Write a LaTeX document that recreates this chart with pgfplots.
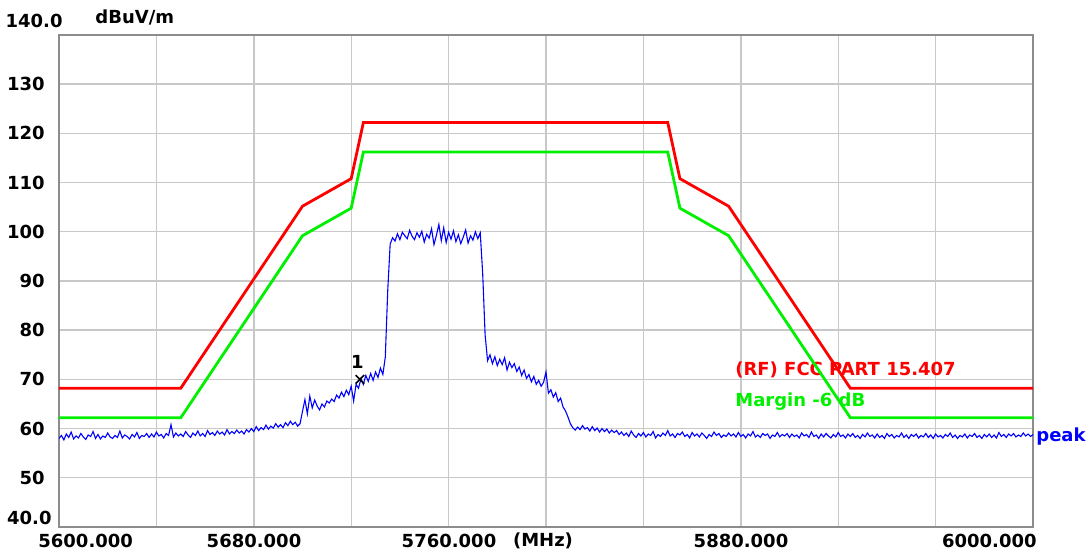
\documentclass[border=0pt]{standalone}
\usepackage{pgfplots}
\pgfplotsset{compat=1.18}
\usepackage{fontspec}
\setmainfont{DejaVu Sans}
\definecolor{limred}{RGB}{255,0,0}
\definecolor{limgreen}{RGB}{0,240,0}
\definecolor{traceblue}{RGB}{0,0,255}
\definecolor{gridgray}{RGB}{200,200,200}
\definecolor{framegray}{RGB}{140,140,140}
\newcommand\lbl{\bfseries\fontsize{9}{10}\selectfont}

\begin{document}
\begin{tikzpicture}
\useasboundingbox (0,0) rectangle (544.5pt,277.5pt);
\begin{axis}[
    at={(29.5pt,14pt)}, anchor=south west,
    width=487pt, height=246pt, scale only axis,
    xmin=5600, xmax=6000, ymin=40, ymax=140,
    xtick={5600,5640,...,6000}, xticklabels={,,,,,,,,,,},
    ytick={40,50,...,140},
    yticklabels={,50,60,70,80,90,100,110,120,130,},
    major tick length=0pt,
    grid=major,
    grid style={color=gridgray, line width=0.7pt},
    axis line style={color=framegray, line width=1.4pt},
    yticklabel style={font=\lbl, inner sep=0pt, xshift=-7pt, anchor=east},
    clip mode=individual,
]
% limit labels (drawn under the lines, as in the analyser plot)
\node[anchor=west, text=limred, font=\lbl, inner sep=0pt] at (axis cs:5877.6,71.9) {(RF) FCC PART 15.407};
\node[anchor=west, text=limgreen, font=\lbl, inner sep=0pt] at (axis cs:5877.6,65.4) {Margin -6 dB};

% peak trace
\addplot[traceblue, line width=0.55pt] coordinates {
(5600,58.0) (5601,58.6) (5602,57.7) (5603,58.9) (5604,58.2) (5605,59.3) (5606,57.9) (5607,58.5) (5608,58.1) (5609,59.0)
(5610,58.3) (5611,57.8) (5612,58.7) (5613,58.4) (5614,59.4) (5615,58.0) (5616,58.8) (5617,57.9) (5618,58.5) (5619,58.2)
(5620,59.1) (5621,58.3) (5622,58.0) (5623,58.6) (5624,58.2) (5625,59.5) (5626,58.1) (5627,58.7) (5628,58.4) (5629,57.9)
(5630,58.8) (5631,58.3) (5632,59.2) (5633,58.0) (5634,58.6) (5635,58.4) (5636,59.0) (5637,58.2) (5638,58.9) (5639,58.3)
(5640,59.3) (5641,58.5) (5642,58.8) (5643,58.1) (5644,59.0) (5645,58.6) (5646,60.8) (5647,58.3) (5648,59.1) (5649,58.5)
(5650,58.9) (5651,58.4) (5652,59.4) (5653,58.7) (5654,58.2) (5655,59.1) (5656,58.6) (5657,59.5) (5658,58.5) (5659,59.0)
(5660,58.4) (5661,59.6) (5662,58.8) (5663,59.2) (5664,58.6) (5665,59.5) (5666,58.9) (5667,59.3) (5668,58.7) (5669,59.8)
(5670,58.9) (5671,59.4) (5672,59.0) (5673,59.7) (5674,59.1) (5675,59.5) (5676,58.9) (5677,59.8) (5678,59.3) (5679,60.0)
(5680,59.4) (5681,60.4) (5682,59.6) (5683,60.2) (5684,59.8) (5685,60.7) (5686,59.9) (5687,60.5) (5688,60.1) (5689,61.0)
(5690,60.3) (5691,60.8) (5692,60.2) (5693,61.2) (5694,60.6) (5695,61.5) (5696,60.8) (5697,61.3) (5698,60.5) (5699,61.0)
(5700,63.5) (5701,65.9) (5702,63.0) (5703,66.6) (5704,64.2) (5705,65.8) (5706,64.6) (5707,63.8) (5708,65.0) (5709,64.4)
(5710,65.6) (5711,65.2) (5712,66.0) (5713,65.5) (5714,66.8) (5715,66.2) (5716,67.4) (5717,66.5) (5718,67.8) (5719,66.9)
(5720,68.6) (5721,65.6) (5722,69.0) (5723,68.2) (5724,70.1) (5725,69.0) (5726,70.8) (5727,69.6) (5728,71.2) (5729,69.8)
(5730,71.5) (5731,70.4) (5732,72.3) (5733,71.0) (5734,74.5) (5735,88.0) (5736,97.5) (5737,98.8) (5738,98.1) (5739,99.6)
(5740,98.4) (5741,99.9) (5742,99.2) (5743,98.6) (5744,100.3) (5745,99.1) (5746,98.4) (5747,99.8) (5748,98.9) (5749,100.1)
(5750,97.9) (5751,99.5) (5752,98.7) (5753,100.6) (5754,97.4) (5755,99.3) (5756,101.5) (5757,98.2) (5758,100.8) (5759,97.8)
(5760,99.9) (5761,98.5) (5762,100.2) (5763,98.0) (5764,99.4) (5765,97.6) (5766,98.9) (5767,100.4) (5768,97.7) (5769,99.2)
(5770,98.3) (5771,100.0) (5772,98.6) (5773,99.8) (5774,91.5) (5775,79.0) (5776,73.8) (5777,75.0) (5778,73.2) (5779,74.6)
(5780,72.8) (5781,74.1) (5782,73.0) (5783,74.4) (5784,71.9) (5785,73.5) (5786,72.4) (5787,73.2) (5788,71.6) (5789,72.5)
(5790,70.8) (5791,71.9) (5792,70.2) (5793,71.0) (5794,69.5) (5795,70.6) (5796,69.0) (5797,69.8) (5798,68.6) (5799,69.4)
(5800,71.5) (5801,67.2) (5802,67.9) (5803,66.4) (5804,67.3) (5805,65.5) (5806,66.2) (5807,64.4) (5808,63.6) (5809,62.4)
(5810,61.0) (5811,60.2) (5812,59.7) (5813,60.3) (5814,59.8) (5815,60.6) (5816,59.9) (5817,60.2) (5818,59.5) (5819,60.4)
(5820,59.6) (5821,60.1) (5822,59.3) (5823,60.0) (5824,59.4) (5825,59.9) (5826,59.1) (5827,59.7) (5828,59.2) (5829,59.6)
(5830,58.8) (5831,59.3) (5832,58.6) (5833,59.1) (5834,58.4) (5835,59.5) (5836,58.7) (5837,58.2) (5838,59.0) (5839,58.5)
(5840,59.2) (5841,58.3) (5842,58.9) (5843,58.6) (5844,59.4) (5845,58.1) (5846,58.8) (5847,58.4) (5848,59.1) (5849,58.6)
(5850,59.6) (5851,58.5) (5852,58.9) (5853,58.2) (5854,59.0) (5855,58.7) (5856,59.3) (5857,58.4) (5858,58.8) (5859,58.1)
(5860,59.2) (5861,58.5) (5862,58.9) (5863,58.3) (5864,59.1) (5865,58.6) (5866,58.0) (5867,58.8) (5868,58.4) (5869,59.3)
(5870,58.6) (5871,59.0) (5872,58.2) (5873,58.7) (5874,58.4) (5875,59.1) (5876,58.5) (5877,58.9) (5878,58.3) (5879,59.2)
(5880,58.4) (5881,58.8) (5882,58.1) (5883,58.9) (5884,58.5) (5885,59.4) (5886,58.3) (5887,58.7) (5888,58.2) (5889,59.0)
(5890,58.6) (5891,58.9) (5892,58.0) (5893,58.7) (5894,58.4) (5895,59.2) (5896,58.3) (5897,58.8) (5898,58.5) (5899,59.0)
(5900,58.2) (5901,58.9) (5902,58.4) (5903,58.7) (5904,58.1) (5905,59.1) (5906,58.5) (5907,58.8) (5908,58.2) (5909,59.3)
(5910,58.4) (5911,58.7) (5912,58.0) (5913,58.9) (5914,58.3) (5915,59.0) (5916,58.5) (5917,58.1) (5918,58.8) (5919,58.3)
(5920,59.2) (5921,58.4) (5922,58.7) (5923,58.1) (5924,58.9) (5925,58.4) (5926,59.0) (5927,58.2) (5928,58.6) (5929,58.0)
(5930,58.8) (5931,58.3) (5932,59.1) (5933,58.4) (5934,58.7) (5935,58.1) (5936,58.9) (5937,58.2) (5938,58.6) (5939,58.0)
(5940,59.0) (5941,58.4) (5942,58.8) (5943,58.1) (5944,58.6) (5945,58.3) (5946,59.1) (5947,58.2) (5948,58.7) (5949,58.0)
(5950,58.8) (5951,58.4) (5952,58.9) (5953,58.1) (5954,58.6) (5955,58.3) (5956,59.0) (5957,58.2) (5958,58.7) (5959,58.0)
(5960,58.9) (5961,58.3) (5962,58.6) (5963,58.1) (5964,58.8) (5965,58.4) (5966,59.1) (5967,58.2) (5968,58.7) (5969,58.0)
(5970,58.6) (5971,58.3) (5972,58.9) (5973,58.1) (5974,58.7) (5975,58.4) (5976,59.0) (5977,58.2) (5978,58.6) (5979,58.0)
(5980,58.8) (5981,58.3) (5982,58.9) (5983,58.2) (5984,58.7) (5985,58.1) (5986,59.2) (5987,58.4) (5988,58.8) (5989,58.2)
(5990,58.9) (5991,58.5) (5992,59.0) (5993,58.3) (5994,58.7) (5995,58.4) (5996,59.1) (5997,58.5) (5998,58.9) (5999,58.4)
(6000,58.8)
};

% FCC 15.407 limit and -6 dB margin
\addplot[limred, line width=1.4pt] coordinates {
(5600,68.2) (5650,68.2) (5700,105.2) (5720,110.8) (5725,122.2)
(5850,122.2) (5855,110.8) (5875,105.2) (5925,68.2) (6000,68.2)
};
\addplot[limgreen, line width=1.4pt] coordinates {
(5600,62.2) (5650,62.2) (5700,99.2) (5720,104.8) (5725,116.2)
(5850,116.2) (5855,104.8) (5875,99.2) (5925,62.2) (6000,62.2)
};

% marker 1
\addplot[only marks, mark=x, mark size=3pt, black, line width=0.8pt] coordinates {(5723.6,70.0)};
\node[font=\lbl, inner sep=0pt] at (axis cs:5722.5,73.6) {1};

\node[anchor=west, text=traceblue, font=\lbl, inner sep=0pt] at (axis cs:6000,58.3) {\hspace{1.5pt}peak};
\end{axis}

% axis annotations in the analyser's layout
\node[anchor=east, font=\lbl, inner sep=0pt] at (31.5pt,267.25pt) {140.0};
\node[anchor=west, font=\lbl, inner sep=0pt] at (47.5pt,268.75pt) {dBuV/m};
\node[anchor=east, font=\lbl, inner sep=0pt] at (26pt,18.75pt) {40.0};
\node[anchor=west, font=\lbl, inner sep=0pt] at (19pt,7pt) {5600.000};
\node[font=\lbl, inner sep=0pt] at (127pt,7pt) {5680.000};
\node[font=\lbl, inner sep=0pt] (c) at (224.5pt,7pt) {5760.000};
\node[anchor=west, font=\lbl, inner sep=0pt] at ([xshift=8pt]c.east) {(MHz)};
\node[font=\lbl, inner sep=0pt] at (370.5pt,7pt) {5880.000};
\node[anchor=east, font=\lbl, inner sep=0pt] at (518.5pt,7pt) {6000.000};
\end{tikzpicture}
\end{document}
